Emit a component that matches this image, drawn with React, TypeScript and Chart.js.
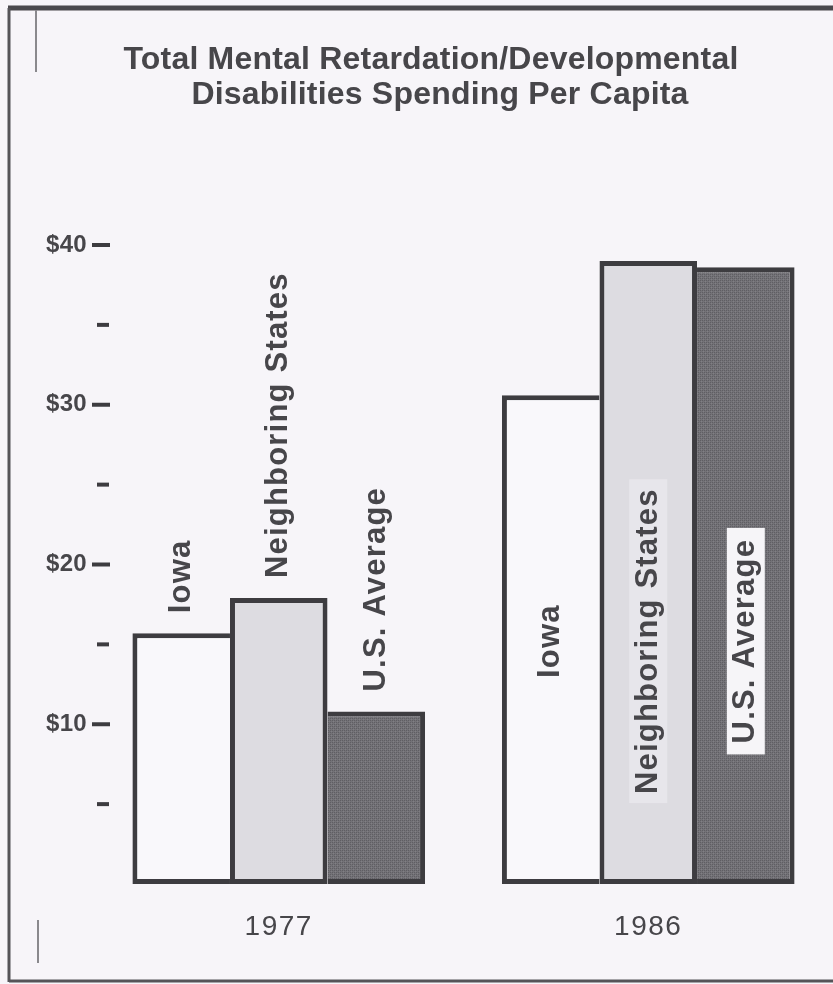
import React, { useEffect, useRef } from "react";
import { Chart, registerables } from "chart.js";

Chart.register(...registerables);

// ---- data ----
const categories = ["1977", "1986"];
const seriesNames = ["Iowa", "Neighboring States", "U.S. Average"];
const iowa = [15.7, 30.6];
const neighboringStates = [17.9, 39.0];
const usAverage = [10.8, 38.6];
const tickValues = [5, 10, 15, 20, 25, 30, 35, 40];
const tickLabels = ["", "$10", "", "$20", "", "$30", "", "$40"];
const titleLines = [
  "Total Mental Retardation/Developmental",
  "Disabilities Spending Per Capita",
];

const W = 833;
const H = 984;
const BG = "#f7f5f9";
const INK = "#47464a";
const FONT = "'Liberation Sans', Arial, sans-serif";

function makeTexture(): CanvasPattern | string {
  const c = document.createElement("canvas");
  c.width = 4;
  c.height = 4;
  const g = c.getContext("2d");
  if (!g) return "#6e6d72";
  g.fillStyle = "#737277";
  g.fillRect(0, 0, 4, 4);
  g.fillStyle = "#5f5e63";
  g.fillRect(0, 0, 1, 1);
  g.fillRect(2, 2, 1, 1);
  g.fillRect(2, 0, 1, 1);
  g.fillRect(0, 2, 1, 1);
  g.fillStyle = "#807f84";
  g.fillRect(1, 1, 1, 1);
  g.fillRect(3, 3, 1, 1);
  const p = g.createPattern(c, "repeat");
  return p || "#6e6d72";
}

function setSpacing(ctx: any, px: number) {
  if ("letterSpacing" in ctx) ctx.letterSpacing = `${px}px`;
}

const decorPlugin = {
  id: "decor",
  beforeDraw(chart: any) {
    const ctx = chart.ctx;
    ctx.save();
    ctx.fillStyle = BG;
    ctx.fillRect(0, 0, chart.width, chart.height);
    ctx.restore();
  },
  afterDraw(chart: any) {
    const ctx = chart.ctx;
    const y = chart.scales.y;
    const x = chart.scales.x;
    ctx.save();

    // frame
    ctx.strokeStyle = "#4a494d";
    ctx.lineWidth = 5;
    ctx.beginPath();
    ctx.moveTo(8, 8);
    ctx.lineTo(W, 8);
    ctx.stroke();
    ctx.lineWidth = 3;
    ctx.strokeStyle = "#555458";
    ctx.beginPath();
    ctx.moveTo(9, 8);
    ctx.lineTo(9, 982);
    ctx.moveTo(9, 981);
    ctx.lineTo(W, 981);
    ctx.stroke();
    ctx.lineWidth = 2;
    ctx.strokeStyle = "#8a898d";
    ctx.beginPath();
    ctx.moveTo(36, 10);
    ctx.lineTo(36, 72);
    ctx.moveTo(38, 920);
    ctx.lineTo(38, 963);
    ctx.stroke();

    // title
    ctx.fillStyle = INK;
    ctx.font = `bold 32px ${FONT}`;
    setSpacing(ctx, 0.2);
    ctx.textAlign = "center";
    ctx.textBaseline = "alphabetic";
    ctx.fillText(titleLines[0], 431, 69);
    ctx.fillText(titleLines[1], 440, 104);

    // y ticks
    ctx.font = `bold 24px ${FONT}`;
    setSpacing(ctx, 0.3);
    ctx.textAlign = "right";
    ctx.textBaseline = "middle";
    ctx.strokeStyle = "#3d3c40";
    ctx.lineWidth = 4;
    tickValues.forEach((v, i) => {
      const py = y.getPixelForValue(v);
      ctx.beginPath();
      ctx.moveTo(i % 2 === 0 ? 97 : 92, py);
      ctx.lineTo(i % 2 === 0 ? 109 : 110, py);
      ctx.stroke();
      if (tickLabels[i]) ctx.fillText(tickLabels[i], 87, py);
    });

    // x labels
    ctx.font = `28px ${FONT}`;
    setSpacing(ctx, 1.5);
    ctx.textAlign = "center";
    ctx.textBaseline = "middle";
    categories.forEach((c, i) => {
      ctx.fillText(c, x.getPixelForValue(i), 927);
    });

    // series labels (rotated)
    ctx.font = `bold 31px ${FONT}`;
    setSpacing(ctx, 1.2);
    const insideCenter = y.getPixelForValue(15.2);
    chart.data.datasets.forEach((ds: any, di: number) => {
      const meta = chart.getDatasetMeta(di);
      meta.data.forEach((bar: any, i: number) => {
        const label = seriesNames[di];
        const tw = ctx.measureText(label).width;
        ctx.save();
        ctx.translate(bar.x, 0);
        ctx.rotate(-Math.PI / 2);
        ctx.textBaseline = "middle";
        if (i === 0) {
          ctx.textAlign = "left";
          ctx.fillStyle = INK;
          ctx.fillText(label, -(bar.y - 20), 0);
        } else {
          ctx.textAlign = "center";
          if (di === 2) {
            ctx.fillStyle = "#f6f5f8";
            ctx.fillRect(-insideCenter - tw / 2 - 11, -19, tw + 22, 38);
          } else if (di === 1) {
            ctx.fillStyle = "#e7e6eb";
            ctx.fillRect(-insideCenter - tw / 2 - 9, -19, tw + 18, 38);
          }
          ctx.fillStyle = INK;
          ctx.fillText(label, -insideCenter, 0);
        }
        ctx.restore();
      });
    });

    ctx.restore();
  },
};

export default function App() {
  const ref = useRef<HTMLCanvasElement>(null);

  useEffect(() => {
    document.body.style.margin = "0";
    document.body.style.background = BG;
    const canvas = ref.current;
    if (!canvas) return;
    const border = "#3d3c40";
    const chart = new Chart(canvas, {
      type: "bar",
      data: {
        labels: categories,
        datasets: [
          {
            label: seriesNames[0],
            data: iowa,
            backgroundColor: "#f9f8fb",
            borderColor: border,
            borderWidth: { left: 5, top: 5, bottom: 5, right: 0 },
            borderSkipped: false,
          },
          {
            label: seriesNames[1],
            data: neighboringStates,
            backgroundColor: "#dddce1",
            borderColor: border,
            borderWidth: { left: 5, top: 5, bottom: 5, right: 5 },
            borderSkipped: false,
          },
          {
            label: seriesNames[2],
            data: usAverage,
            backgroundColor: makeTexture() as any,
            borderColor: border,
            borderWidth: { left: 0, top: 5, bottom: 5, right: 5 },
            borderSkipped: false,
          },
        ],
      },
      options: {
        responsive: false,
        animation: false,
        layout: { padding: { left: 94, right: 0, top: 245, bottom: 100 } },
        plugins: {
          legend: { display: false },
          title: { display: false },
          tooltip: { enabled: false },
        },
        datasets: {
          bar: { barPercentage: 1, categoryPercentage: 0.792 },
        },
        scales: {
          x: { display: false },
          y: { display: false, min: 0, max: 40 },
        },
      },
      plugins: [decorPlugin],
    } as any);
    return () => chart.destroy();
  }, []);

  return (
    <div style={{ width: W, height: H, background: BG }}>
      <canvas ref={ref} width={W} height={H} style={{ display: "block" }} />
    </div>
  );
}
